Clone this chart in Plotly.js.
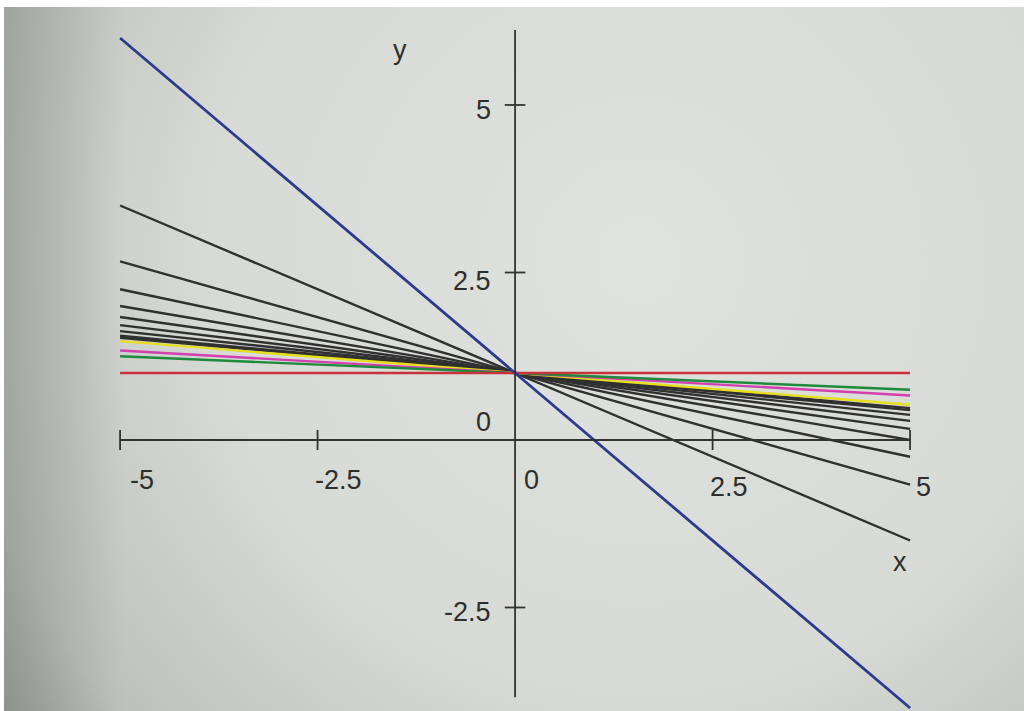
<!DOCTYPE html>
<html>
<head>
<meta charset="utf-8">
<script src="https://cdn.plot.ly/plotly-3.0.1.min.js"></script>
<style>html,body{margin:0;padding:0;background:#d4d8d3;}#chart{width:1024px;height:711px;}</style>
</head>
<body>
<div id="chart"></div>
<script>
// ---- data: each line through (0,1), value at x=-5 and at x=5 ----
const lineNames = ["blue", "k2", "k3", "k4", "k5", "k6", "k7", "k8", "k9", "k10", "yellow", "magenta", "green", "red"];
const xEnds = [-5, 5];
const yAtMinus5 = [6.0, 3.5, 2.665, 2.25, 2.0, 1.835, 1.715, 1.625, 1.555, 1.525, 1.475, 1.335, 1.25, 1.0];
const yAtPlus5  = [-4.0, -1.5, -0.665, -0.25, 0.0, 0.165, 0.285, 0.375, 0.445, 0.475, 0.525, 0.665, 0.75, 1.0];
const lineColors = ["#2a3a8c", "#303030", "#303030", "#303030", "#303030", "#303030", "#303030", "#303030", "#303030", "#303030", "#e6df1e", "#d23fae", "#1e8a3c", "#c8323a"];

// ticks
const xTickVals = [-5, -2.5, 0, 2.5, 5];
const xTickText = ["-5", "-2.5", "0", "2.5", "5"];
const yTickVals = [5, 2.5, 0, -2.5];
const yTickText = ["5", "2.5", "0", "-2.5"];

// ---- traces ----
const order = [1,2,3,4,5,6,7,8,9,10,11,12,13,0];
const traces = order.map(i => ({
  type: "scatter", mode: "lines", name: lineNames[i],
  x: xEnds, y: [yAtMinus5[i], yAtPlus5[i]],
  line: {color: lineColors[i], width: i === 0 ? 2.8 : 2.4},
  hoverinfo: "skip", showlegend: false
}));

// ---- axes drawn in data coordinates ----
const axisColor = "#333333";
const shapes = [
  {type: "line", xref: "x", yref: "y", x0: -5, x1: 5, y0: 0, y1: 0, line: {color: axisColor, width: 1.8}},
  {type: "line", xref: "x", yref: "y", x0: 0, x1: 0, y0: -3.84, y1: 6.12, line: {color: axisColor, width: 1.8}}
];
xTickVals.forEach(v => { if (v !== 0) shapes.push({type: "line", xref: "x", yref: "y", x0: v, x1: v, y0: -0.15, y1: 0.15, line: {color: axisColor, width: 1.8}}); });
yTickVals.forEach(v => { if (v !== 0) shapes.push({type: "line", xref: "x", yref: "y", x0: -0.13, x1: 0.13, y0: v, y1: v, line: {color: axisColor, width: 1.8}}); });

const labelFont = {family: "Liberation Sans, Arial, sans-serif", size: 27, color: "#2e2e2e"};
const xLabelShiftX = [22, 21, 16, 16, 13];
const xLabelShiftY = [-40, -40, -40, -47, -47];
const yLabelShiftY = [-5, -9, 18, -5];
const annotations = [];
xTickVals.forEach((v, i) => annotations.push({
  x: v, y: 0, xref: "x", yref: "y", text: xTickText[i], showarrow: false,
  xanchor: "center", yanchor: "middle", xshift: xLabelShiftX[i], yshift: xLabelShiftY[i], font: labelFont
}));
yTickVals.forEach((v, i) => annotations.push({
  x: 0, y: v, xref: "x", yref: "y", text: yTickText[i], showarrow: false,
  xanchor: "right", yanchor: "middle", xshift: -22, yshift: yLabelShiftY[i], font: labelFont
}));
annotations.push({x: 4.87, y: -1.82, xref: "x", yref: "y", text: "x", showarrow: false, xanchor: "center", yanchor: "middle", font: labelFont});
annotations.push({x: -1.456, y: 5.82, xref: "x", yref: "y", text: "y", showarrow: false, xanchor: "center", yanchor: "middle", font: labelFont});

// photographic paper background
const bgSvg = '<svg xmlns="http://www.w3.org/2000/svg" width="1024" height="711">' +
  '<defs>' +
  '<radialGradient id="g" cx="640" cy="260" r="860" gradientUnits="userSpaceOnUse">' +
  '<stop offset="0" stop-color="#dfe2de"/><stop offset="0.5" stop-color="#d7dad5"/>' +
  '<stop offset="0.8" stop-color="#bdc1bb"/><stop offset="1" stop-color="#8e938d"/></radialGradient>' +
  '<linearGradient id="l" x1="0" y1="0" x2="1" y2="0">' +
  '<stop offset="0" stop-color="#555b55" stop-opacity="0.3"/><stop offset="0.12" stop-color="#555b55" stop-opacity="0"/></linearGradient>' +
  '</defs>' +
  '<rect width="1024" height="711" fill="url(#g)"/>' +
  '<rect width="1024" height="711" fill="url(#l)"/>' +
  '<rect x="0" y="0" width="1024" height="7" fill="#ffffff"/>' +
  '<rect x="0" y="0" width="4" height="711" fill="#ffffff"/>' +
  '</svg>';

const layout = {
  width: 1024, height: 711,
  margin: {l: 0, r: 0, t: 0, b: 0},
  paper_bgcolor: "#d4d8d3", plot_bgcolor: "rgba(0,0,0,0)",
  xaxis: {range: [-6.52, 6.442], visible: false, fixedrange: true},
  yaxis: {range: [-4.045, 6.567], visible: false, fixedrange: true},
  shapes: shapes, annotations: annotations,
  images: [{source: "data:image/svg+xml;charset=utf-8," + encodeURIComponent(bgSvg),
    xref: "paper", yref: "paper", x: 0, y: 1, sizex: 1, sizey: 1,
    xanchor: "left", yanchor: "top", sizing: "stretch", layer: "below"}],
  showlegend: false
};

Plotly.newPlot("chart", traces, layout, {staticPlot: true, displayModeBar: false});
</script>
</body>
</html>
